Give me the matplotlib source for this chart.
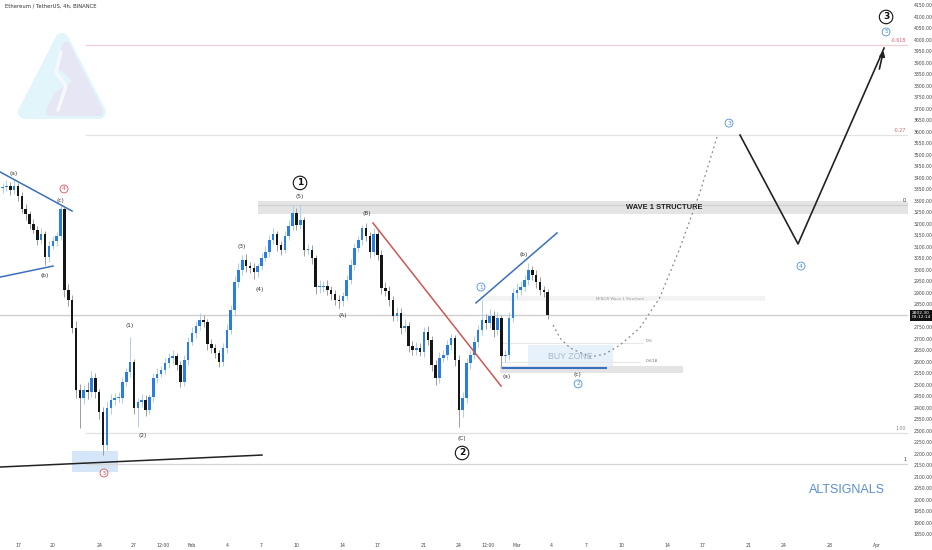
import numpy as np
import matplotlib
matplotlib.use("Agg")
import matplotlib.pyplot as plt
from matplotlib.patches import Polygon, Rectangle
from matplotlib.transforms import blended_transform_factory

# ---- data: 8h candles, x = days since Jan 17 ----
start_day = -5 / 3
bar_step = 1 / 3
first_open = 3340
closes = [
    3355, 3359, 3364, 3346, 3364, 3320, 3264, 3242, 3199, 3173,
    3129, 3155, 3055, 3103, 3125, 3147, 3264, 2912, 2869, 2747,
    2478, 2443, 2478, 2469, 2530, 2469, 2382, 2239, 2399, 2434,
    2443, 2443, 2512, 2556, 2599, 2399, 2425, 2434, 2391, 2447,
    2530, 2547, 2564, 2595, 2617, 2625, 2586, 2512, 2608, 2686,
    2725, 2756, 2782, 2773, 2677, 2660, 2638, 2599, 2660, 2738,
    2825, 2947, 2999, 3042, 3016, 3008, 2990, 3016, 3051, 3077,
    3129, 3155, 3107, 3086, 3147, 3190, 3246, 3194, 3216, 3086,
    3086, 3051, 2925, 2925, 2929, 2912, 2894, 2868, 2864, 2886,
    2955, 3021, 3094, 3129, 3181, 3147, 3077, 3155, 3064, 2921,
    2908, 2869, 2799, 2812, 2747, 2756, 2669, 2651, 2660, 2643,
    2730, 2695, 2586, 2530, 2617, 2630, 2673, 2703, 2608, 2391,
    2443, 2595, 2630, 2686, 2738, 2782, 2769, 2799, 2738, 2790,
    2625, 2630, 2790, 2899, 2912, 2925, 2955, 2999, 2977, 2947,
    2912, 2903, 2802,
]
wick_up = [
    20, 18, 25, 15, 26, 12, 18, 20, 15, 22,
    18, 25, 12, 20, 22, 15, 18, 10, 25, 20,
    30, 25, 20, 35, 28, 20, 15, 20, 30, 25,
    20, 25, 20, 18, 109, 15, 20, 25, 22, 15,
    20, 25, 18, 20, 22, 25, 15, 18, 20, 22,
    25, 20, 30, 20, 15, 22, 18, 15, 20, 25,
    20, 25, 30, 20, 25, 18, 20, 15, 20, 25,
    20, 25, 15, 18, 20, 25, 36, 20, 66, 15,
    25, 20, 15, 30, 20, 25, 18, 20, 22, 18,
    20, 25, 20, 18, 13, 20, 15, 25, 18, 20,
    25, 20, 18, 25, 20, 30, 18, 20, 25, 22,
    20, 25, 18, 20, 25, 22, 20, 18, 15, 20,
    25, 20, 22, 25, 20, 88, 25, 30, 20, 25,
    15, 20, 25, 20, 30, 25, 20, 30, 18, 22,
    20, 18, 15,
]
wick_dn = [
    15, 20, 18, 22, 15, 20, 18, 25, 20, 15,
    22, 18, 33, 20, 15, 22, 18, 30, 25, 20,
    35, 130, 25, 30, 20, 25, 30, 44, 20, 25,
    22, 18, 20, 15, 20, 25, 80, 20, 25, 18,
    20, 22, 15, 18, 20, 25, 20, 22, 18, 20,
    15, 20, 18, 20, 25, 22, 20, 22, 18, 20,
    15, 20, 25, 20, 25, 22, 30, 20, 18, 15,
    20, 18, 25, 22, 15, 20, 18, 20, 15, 25,
    20, 25, 30, 25, 20, 22, 25, 20, 30, 20,
    18, 15, 20, 18, 20, 22, 25, 18, 20, 25,
    20, 25, 22, 20, 25, 18, 25, 20, 22, 18,
    20, 22, 25, 30, 20, 18, 22, 20, 25, 74,
    30, 20, 25, 18, 20, 22, 25, 20, 30, 20,
    52, 25, 20, 18, 25, 20, 18, 20, 22, 25,
    20, 22, 18,
]
last_price = "2802.30"
countdown = "03:12:14"

date_ticks = [0, 3, 7, 10, 12.5, 15, 18, 21, 24, 28, 31, 35, 38, 40.5, 43,
              46, 49, 52, 56, 59, 63, 66, 70, 74]
date_labels = ["17", "20", "24", "27", "12:00", "Feb", "4", "7", "10", "14", "17",
               "21", "24", "12:00", "Mar", "4", "7", "10", "14", "17", "21",
               "24", "28", "Apr"]
price_ticks = list(range(1850, 4151, 50))

# fib / structure levels (price, label, label colour, line colour)
fib_levels = [(3976, "-0.618", "#e05a6a", "#f3cdd3"),
              (3585, "-0.27", "#e05a6a", "#e2e2e2"),
              (3281, "0", "#333333", "#cfcfcf"),
              (2291, "1.00", "#888888", "#e0e0e0"),
              (2156, "1", "#333333", "#d6d6d6")]

# wave labels: text, day, price, kind
wave_labels = [
    ("(a)", -0.34, 3420, "s"), ("(c)", 3.62, 3299, "s"), ("(b)", 2.33, 2977, "s"),
    ("(1)", 9.66, 2756, "s"), ("(2)", 10.78, 2278, "s"), ("(3)", 19.31, 3099, "s"),
    ("(4)", 20.86, 2916, "s"), ("(5)", 24.31, 3320, "s"), ("(B)", 30.09, 3246, "s"),
    ("(A)", 28.02, 2803, "s"), ("(C)", 38.28, 2269, "s"), ("(b)", 43.62, 3068, "s"),
    ("(a)", 42.16, 2538, "s"), ("(c)", 48.19, 2543, "s"),
    ("4", 3.97, 3351, "red"), ("5", 7.41, 2117, "red"),
    ("1", 39.91, 2925, "blue"), ("2", 48.28, 2504, "blue"), ("3", 61.29, 3637, "blue"),
    ("4", 67.5, 3016, "blue"), ("5", 74.83, 4033, "blue"),
    ("1", 24.31, 3377, "big"), ("2", 38.28, 2204, "big"), ("3", 74.83, 4098, "big"),
]

# trendlines: (d0, p0, d1, p1, colour)
trend_lines = [(-1.55, 3425, 4.66, 3255, "#3a6fbf"),
               (-1.55, 2968, 3.02, 3016, "#3a6fbf"),
               (-1.55, 2143, 21.03, 2195, "#222222"),
               (30.6, 3203, 41.64, 2495, "#d05555"),
               (39.48, 2856, 46.47, 3160, "#3a6fbf")]

path_days = [46.12, 46.72, 47.59, 49.31, 50.6, 51.9, 53.6, 55.3, 57.0, 58.8, 60.26]
path_prices = [2760, 2703, 2660, 2621, 2634, 2673, 2747, 2877, 3086, 3338, 3577]
zig_days = [62.24, 67.24, 74.66]
zig_prices = [3585, 3112, 3963]

# ---- figure ----
fig = plt.figure(figsize=(9.32, 5.5), dpi=100)
ax = fig.add_axes([0, 10 / 550, 908 / 932, 540 / 550])
ax.set_xlim(-1.552, 76.72)
ax.set_ylim(1826, 4171.7)
for s in ax.spines.values():
    s.set_visible(False)

# logo (figure pixel space)
lg = fig.add_axes([0, 0, 1, 1], zorder=0)
lg.set_xlim(0, 932)
lg.set_ylim(550, 0)
lg.axis("off")
lg.add_patch(Polygon([(62, 40), (25, 112), (99, 112)], closed=True, fc="#e2f5fb",
                     ec="#e2f5fb", lw=10, joinstyle="round"))
lg.add_patch(Polygon([(66, 46), (99, 112), (50, 112), (58, 95), (80, 82), (62, 66)],
                     closed=True, fc="#e6e6f4", ec="#e6e6f4", lw=6, joinstyle="round"))
lg.plot([61, 56, 66, 58], [52, 72, 86, 110], color="#f6f8fc", lw=2.5,
        solid_capstyle="round")
ax.set_zorder(1)
ax.patch.set_alpha(0)

# levels
ax.axhline(2802.3, color="#cfcfcf", lw=1, zorder=1)
for p, lab, tc, lc in fib_levels:
    x0 = 20.7 if lab == "0" else 5.78
    ax.hlines(p, x0, 76.72, color=lc, lw=0.9, zorder=1)
    ax.text(76.55, p + 8, lab, fontsize=3.4, color=tc, ha="right", va="bottom")
ax.add_patch(Rectangle((20.7, 3241), 56, 57, fc="#e4e4e4", ec="none", zorder=0.9))
ax.text(55.69, 3272, "WAVE 1 STRUCTURE", fontsize=5.4, fontweight="bold",
        color="#222222", ha="center", va="center", zorder=3, family="Liberation Sans")

# minor structure + buy zone
ax.add_patch(Rectangle((39.83, 2864), 24.6, 22, fc="#f3f3f3", ec="none", zorder=0.9))
ax.text(51.9, 2875, "MINOR Wave 1 Structure", fontsize=2.8, color="#9a9a9a",
        ha="center", va="center")
ax.hlines(2682, 41.55, 53.9, color="#e6e6e6", lw=0.8)
ax.hlines(2599, 41.55, 53.6, color="#e6e6e6", lw=0.8)
ax.text(54.1, 2682, "0.5", fontsize=3.2, color="#777777", va="bottom")
ax.text(54.1, 2597, "0.618", fontsize=3.2, color="#777777", va="bottom")
ax.add_patch(Rectangle((43.97, 2577), 7.33, 96, fc="#e6f1fb", ec="none", zorder=0.9))
ax.text(47.6, 2625, "BUY ZONE", fontsize=6.3, color="#aab8c6", ha="center", va="center",
        family="Liberation Sans")
ax.add_patch(Rectangle((41.55, 2551), 15.75, 31, fc="#e4e4e4", ec="none", zorder=0.9))
ax.hlines(2573, 41.7, 50.8, color="#3a6fbf", lw=1.5, zorder=3)
ax.add_patch(Rectangle((4.66, 2121), 3.96, 92, fc="#d4e6f8", ec="none", zorder=0.9))

# candles
opens = [first_open] + closes[:-1]
for i, c in enumerate(closes):
    d = start_day + i * bar_step
    o = opens[i]
    up = c >= o
    hi = max(o, c) + wick_up[i]
    lo = min(o, c) - wick_dn[i]
    ax.vlines(d, lo, hi, color="#a9cff3" if up else "#9c9c9c", lw=0.7, zorder=2)
    ax.bar(d, max(abs(c - o), 3), bottom=min(o, c), width=0.22,
           color="#2a7de1" if up else "#151515", lw=0, zorder=2.5)

# trendlines and projections
for d0, p0, d1, p1, col in trend_lines:
    ax.plot([d0, d1], [p0, p1], color=col, lw=1.1, zorder=3)
ax.plot(path_days, path_prices, color="#8a8a8a", lw=0.9, ls=(0, (1.5, 2.5)), zorder=3)
ax.plot(zig_days, zig_prices, color="#222222", lw=1.2, zorder=3)
ax.annotate("", xy=(zig_days[-1], zig_prices[-1]), xytext=(74.2, 3860),
            arrowprops=dict(arrowstyle="-|>", color="#222222", lw=1.2,
                            mutation_scale=8), zorder=3)

for txt, d, p, kind in wave_labels:
    if kind == "s":
        ax.text(d, p, txt, fontsize=4.2, color="#333333", ha="center", va="center", zorder=4)
    elif kind == "big":
        ax.text(d, p, txt, fontsize=6.5, fontweight="bold", color="#111111", ha="center",
                va="center", zorder=4,
                bbox=dict(boxstyle="circle,pad=0.25", fc="white", ec="#111111", lw=0.8))
    else:
        col = "#e0505a" if kind == "red" else "#4a8fd8"
        ax.text(d, p, txt, fontsize=4.2, color=col, ha="center", va="center", zorder=4,
                bbox=dict(boxstyle="circle,pad=0.25", fc="white", ec=col, lw=0.6))

ax.text(71.47, 2043, "ALTSIGNALS", fontsize=9, color="#5a8fd2", ha="center",
        va="center", family="Liberation Sans")

# axes ticks (the 2800 label sits under the last-price tag)
ax.yaxis.tick_right()
ax.set_yticks(price_ticks)
ax.set_yticklabels(["" if p == 2800 else f"{p:.2f}" for p in price_ticks])
ax.set_xticks(date_ticks)
ax.set_xticklabels(date_labels)
ax.tick_params(axis="both", length=0, labelsize=3.3, labelcolor="#444444")
ax.tick_params(axis="y", pad=4)
ax.tick_params(axis="x", pad=2)

tr = blended_transform_factory(ax.transAxes, ax.transData)
ax.text(1.004, 2802.3, f"{last_price}\n{countdown}", transform=tr, fontsize=3.2,
        color="white", va="center", ha="left", linespacing=1.1, zorder=5, clip_on=False,
        bbox=dict(boxstyle="square,pad=0.3", fc="#111111", ec="none"))

fig.text(0.005, 1 - 6 / 550, "Ethereum / TetherUS, 4h, BINANCE", fontsize=3.8,
         color="#333333", va="center")

fig.savefig("out.png", dpi=100, facecolor="white")
